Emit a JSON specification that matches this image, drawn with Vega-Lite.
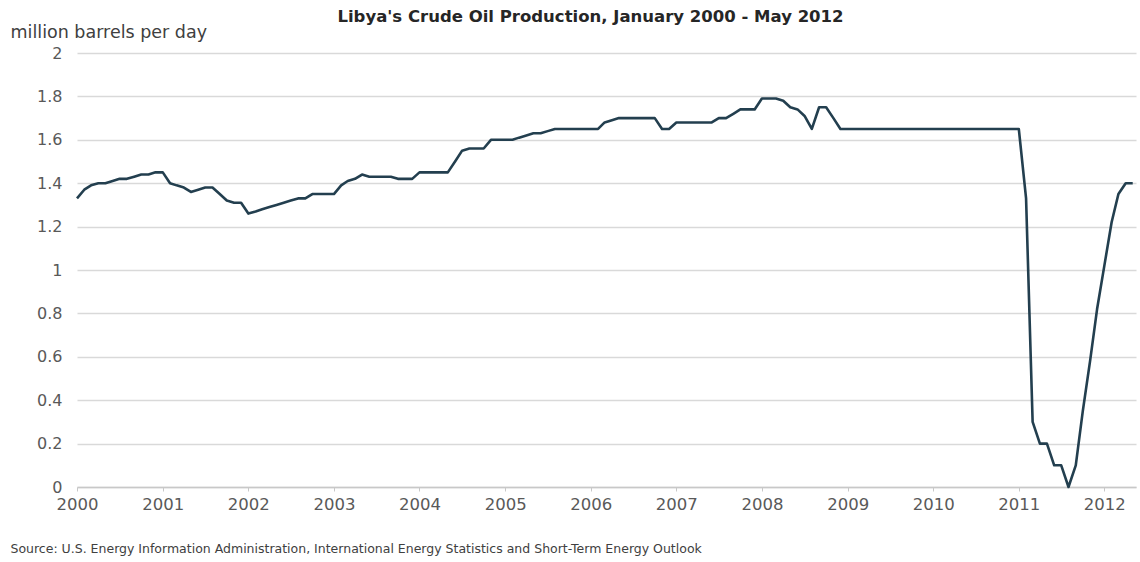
{
  "$schema": "https://vega.github.io/schema/vega-lite/v6.json",
  "autosize": "none",
  "width": 1059,
  "height": 434,
  "padding": {"left": 77, "top": 53, "right": 4, "bottom": 75},
  "background": "white",
  "title": {
    "text": "Libya's Crude Oil Production, January 2000 - May 2012",
    "font": "DejaVu Sans",
    "fontSize": 16.5,
    "fontWeight": "bold",
    "color": "#262626",
    "anchor": "middle",
    "offset": -10,
    "dx": -16,
    "baseline": "middle"
  },
  "data": {"values": [
    {"d":"2000-01-01","v":1.33},{"d":"2000-02-01","v":1.37},{"d":"2000-03-01","v":1.39},{"d":"2000-04-01","v":1.40},{"d":"2000-05-01","v":1.40},{"d":"2000-06-01","v":1.41},{"d":"2000-07-01","v":1.42},{"d":"2000-08-01","v":1.42},{"d":"2000-09-01","v":1.43},{"d":"2000-10-01","v":1.44},{"d":"2000-11-01","v":1.44},{"d":"2000-12-01","v":1.45},
    {"d":"2001-01-01","v":1.45},{"d":"2001-02-01","v":1.40},{"d":"2001-03-01","v":1.39},{"d":"2001-04-01","v":1.38},{"d":"2001-05-01","v":1.36},{"d":"2001-06-01","v":1.37},{"d":"2001-07-01","v":1.38},{"d":"2001-08-01","v":1.38},{"d":"2001-09-01","v":1.35},{"d":"2001-10-01","v":1.32},{"d":"2001-11-01","v":1.31},{"d":"2001-12-01","v":1.31},
    {"d":"2002-01-01","v":1.26},{"d":"2002-02-01","v":1.27},{"d":"2002-03-01","v":1.28},{"d":"2002-04-01","v":1.29},{"d":"2002-05-01","v":1.30},{"d":"2002-06-01","v":1.31},{"d":"2002-07-01","v":1.32},{"d":"2002-08-01","v":1.33},{"d":"2002-09-01","v":1.33},{"d":"2002-10-01","v":1.35},{"d":"2002-11-01","v":1.35},{"d":"2002-12-01","v":1.35},
    {"d":"2003-01-01","v":1.35},{"d":"2003-02-01","v":1.39},{"d":"2003-03-01","v":1.41},{"d":"2003-04-01","v":1.42},{"d":"2003-05-01","v":1.44},{"d":"2003-06-01","v":1.43},{"d":"2003-07-01","v":1.43},{"d":"2003-08-01","v":1.43},{"d":"2003-09-01","v":1.43},{"d":"2003-10-01","v":1.42},{"d":"2003-11-01","v":1.42},{"d":"2003-12-01","v":1.42},
    {"d":"2004-01-01","v":1.45},{"d":"2004-02-01","v":1.45},{"d":"2004-03-01","v":1.45},{"d":"2004-04-01","v":1.45},{"d":"2004-05-01","v":1.45},{"d":"2004-06-01","v":1.50},{"d":"2004-07-01","v":1.55},{"d":"2004-08-01","v":1.56},{"d":"2004-09-01","v":1.56},{"d":"2004-10-01","v":1.56},{"d":"2004-11-01","v":1.60},{"d":"2004-12-01","v":1.60},
    {"d":"2005-01-01","v":1.60},{"d":"2005-02-01","v":1.60},{"d":"2005-03-01","v":1.61},{"d":"2005-04-01","v":1.62},{"d":"2005-05-01","v":1.63},{"d":"2005-06-01","v":1.63},{"d":"2005-07-01","v":1.64},{"d":"2005-08-01","v":1.65},{"d":"2005-09-01","v":1.65},{"d":"2005-10-01","v":1.65},{"d":"2005-11-01","v":1.65},{"d":"2005-12-01","v":1.65},
    {"d":"2006-01-01","v":1.65},{"d":"2006-02-01","v":1.65},{"d":"2006-03-01","v":1.68},{"d":"2006-04-01","v":1.69},{"d":"2006-05-01","v":1.70},{"d":"2006-06-01","v":1.70},{"d":"2006-07-01","v":1.70},{"d":"2006-08-01","v":1.70},{"d":"2006-09-01","v":1.70},{"d":"2006-10-01","v":1.70},{"d":"2006-11-01","v":1.65},{"d":"2006-12-01","v":1.65},
    {"d":"2007-01-01","v":1.68},{"d":"2007-02-01","v":1.68},{"d":"2007-03-01","v":1.68},{"d":"2007-04-01","v":1.68},{"d":"2007-05-01","v":1.68},{"d":"2007-06-01","v":1.68},{"d":"2007-07-01","v":1.70},{"d":"2007-08-01","v":1.70},{"d":"2007-09-01","v":1.72},{"d":"2007-10-01","v":1.74},{"d":"2007-11-01","v":1.74},{"d":"2007-12-01","v":1.74},
    {"d":"2008-01-01","v":1.79},{"d":"2008-02-01","v":1.79},{"d":"2008-03-01","v":1.79},{"d":"2008-04-01","v":1.78},{"d":"2008-05-01","v":1.75},{"d":"2008-06-01","v":1.74},{"d":"2008-07-01","v":1.71},{"d":"2008-08-01","v":1.65},{"d":"2008-09-01","v":1.75},{"d":"2008-10-01","v":1.75},{"d":"2008-11-01","v":1.70},{"d":"2008-12-01","v":1.65},
    {"d":"2009-01-01","v":1.65},{"d":"2009-02-01","v":1.65},{"d":"2009-03-01","v":1.65},{"d":"2009-04-01","v":1.65},{"d":"2009-05-01","v":1.65},{"d":"2009-06-01","v":1.65},{"d":"2009-07-01","v":1.65},{"d":"2009-08-01","v":1.65},{"d":"2009-09-01","v":1.65},{"d":"2009-10-01","v":1.65},{"d":"2009-11-01","v":1.65},{"d":"2009-12-01","v":1.65},
    {"d":"2010-01-01","v":1.65},{"d":"2010-02-01","v":1.65},{"d":"2010-03-01","v":1.65},{"d":"2010-04-01","v":1.65},{"d":"2010-05-01","v":1.65},{"d":"2010-06-01","v":1.65},{"d":"2010-07-01","v":1.65},{"d":"2010-08-01","v":1.65},{"d":"2010-09-01","v":1.65},{"d":"2010-10-01","v":1.65},{"d":"2010-11-01","v":1.65},{"d":"2010-12-01","v":1.65},
    {"d":"2011-01-01","v":1.65},{"d":"2011-02-01","v":1.33},{"d":"2011-03-01","v":0.30},{"d":"2011-04-01","v":0.20},{"d":"2011-05-01","v":0.20},{"d":"2011-06-01","v":0.10},{"d":"2011-07-01","v":0.10},{"d":"2011-08-01","v":0.00},{"d":"2011-09-01","v":0.10},{"d":"2011-10-01","v":0.35},{"d":"2011-11-01","v":0.58},{"d":"2011-12-01","v":0.82},
    {"d":"2012-01-01","v":1.02},{"d":"2012-02-01","v":1.22},{"d":"2012-03-01","v":1.35},{"d":"2012-04-01","v":1.40},{"d":"2012-05-01","v":1.40}
  ]},
  "mark": {"type": "line", "color": "#233f4f", "strokeWidth": 2.6, "strokeJoin": "round"},
  "encoding": {
    "x": {
      "field": "d",
      "type": "temporal",
      "scale": {
        "type": "utc",
        "domain": [{"year": 2000, "month": 1, "date": 1, "utc": true}, {"year": 2012, "month": 5, "date": 15, "utc": true}]
      },
      "axis": {
        "values": [
          {"year": 2000, "month": 1, "date": 1, "utc": true},
          {"year": 2001, "month": 1, "date": 1, "utc": true},
          {"year": 2002, "month": 1, "date": 1, "utc": true},
          {"year": 2003, "month": 1, "date": 1, "utc": true},
          {"year": 2004, "month": 1, "date": 1, "utc": true},
          {"year": 2005, "month": 1, "date": 1, "utc": true},
          {"year": 2006, "month": 1, "date": 1, "utc": true},
          {"year": 2007, "month": 1, "date": 1, "utc": true},
          {"year": 2008, "month": 1, "date": 1, "utc": true},
          {"year": 2009, "month": 1, "date": 1, "utc": true},
          {"year": 2010, "month": 1, "date": 1, "utc": true},
          {"year": 2011, "month": 1, "date": 1, "utc": true},
          {"year": 2012, "month": 1, "date": 1, "utc": true}
        ],
        "format": "%Y",
        "grid": false,
        "domainColor": "#c8c8c8",
        "domainWidth": 1.5,
        "tickColor": "#c8c8c8",
        "tickSize": 4,
        "labelFont": "DejaVu Sans",
        "labelFontSize": 16.5,
        "labelColor": "#595959",
        "labelPadding": 5,
        "labelOverlap": false,
        "labelFlush": false,
        "title": "Source: U.S. Energy Information Administration, International Energy Statistics and Short-Term Energy Outlook",
        "titleFont": "DejaVu Sans",
        "titleFontSize": 12.5,
        "titleFontWeight": "normal",
        "titleColor": "#404040",
        "titleAnchor": "start",
        "titleAlign": "left",
        "titleBaseline": "middle",
        "titleX": -67,
        "titleY": 61
      }
    },
    "y": {
      "field": "v",
      "type": "quantitative",
      "scale": {"domain": [0, 2]},
      "axis": {
        "values": [0, 0.2, 0.4, 0.6, 0.8, 1, 1.2, 1.4, 1.6, 1.8, 2],
        "format": "~g",
        "domain": false,
        "ticks": false,
        "grid": true,
        "gridColor": "#d9d9d9",
        "gridWidth": 1.5,
        "labelFont": "DejaVu Sans",
        "labelFontSize": 16,
        "labelColor": "#595959",
        "labelPadding": 15,
        "title": "million barrels per day",
        "titleFont": "DejaVu Sans",
        "titleFontSize": 17.5,
        "titleFontWeight": "normal",
        "titleColor": "#404040",
        "titleAngle": 0,
        "titleAlign": "left",
        "titleBaseline": "middle",
        "titleX": -67,
        "titleY": -21
      }
    }
  },
  "config": {"view": {"stroke": null}}
}
